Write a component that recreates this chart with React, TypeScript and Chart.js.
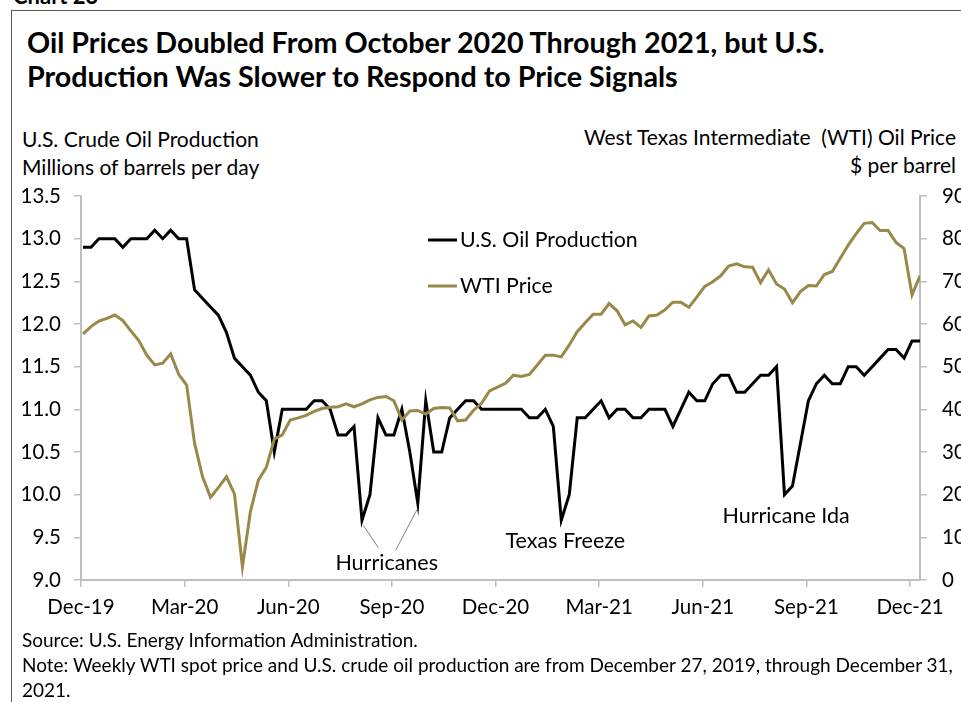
import React, { useEffect, useRef } from "react";
import { Chart, registerables } from "chart.js";
Chart.register(...registerables);

const FONT = "Lato, 'Noto Sans', sans-serif";

// Weekly observations, Dec 27 2019 through Dec 31 2021 (index = week number)
const productionMbd = [
  12.9, 12.9, 13.0, 13.0, 13.0, 12.9, 13.0, 13.0, 13.0, 13.1,
  13.0, 13.1, 13.0, 13.0, 12.4, 12.3, 12.2, 12.1, 11.9, 11.6,
  11.5, 11.4, 11.2, 11.1, 10.5, 11.0, 11.0, 11.0, 11.0, 11.1,
  11.1, 11.0, 10.7, 10.7, 10.8, 9.7, 10.0, 10.9, 10.7, 10.7,
  11.0, 10.5, 9.9, 11.1, 10.5, 10.5, 10.9, 11.0, 11.1, 11.1,
  11.0, 11.0, 11.0, 11.0, 11.0, 11.0, 10.9, 10.9, 11.0, 10.8,
  9.7, 10.0, 10.9, 10.9, 11.0, 11.1, 10.9, 11.0, 11.0, 10.9,
  10.9, 11.0, 11.0, 11.0, 10.8, 11.0, 11.2, 11.1, 11.1, 11.3,
  11.4, 11.4, 11.2, 11.2, 11.3, 11.4, 11.4, 11.5, 10.0, 10.1,
  10.6, 11.1, 11.3, 11.4, 11.3, 11.3, 11.5, 11.5, 11.4, 11.5,
  11.6, 11.7, 11.7, 11.6, 11.8, 11.8,
];

const wtiPrice = [
  57.7, 59.4, 60.7, 61.3, 62.1, 60.8, 58.4, 56.1, 52.7, 50.4,
  50.8, 53.0, 48.2, 45.7, 32.0, 24.2, 19.4, 21.7, 24.2, 20.2,
  3.1, 16.0, 23.4, 26.4, 33.0, 34.0, 37.5, 38.0, 38.6, 39.5,
  40.2, 40.5, 40.6, 41.3, 40.6, 41.3, 42.2, 42.8, 43.0, 42.0,
  37.5, 39.6, 39.7, 38.9, 40.2, 40.4, 40.3, 37.3, 37.5, 39.8,
  41.4, 44.3, 45.2, 46.1, 48.0, 47.7, 48.2, 50.4, 52.7, 52.7,
  52.3, 55.1, 58.2, 60.3, 62.3, 62.3, 64.8, 63.1, 59.8, 60.7,
  59.2, 61.9, 62.1, 63.3, 65.1, 65.1, 63.9, 66.3, 68.8, 69.9,
  71.3, 73.6, 74.1, 73.4, 73.3, 69.7, 72.7, 69.4, 68.2, 65.0,
  67.6, 69.0, 68.9, 71.6, 72.3, 75.4, 78.5, 81.2, 83.6, 83.8,
  81.9, 81.9, 79.1, 77.7, 66.8, 71.3,
];

const xTickLabels = ["Dec-19", "Mar-20", "Jun-20", "Sep-20", "Dec-20", "Mar-21", "Jun-21", "Sep-21", "Dec-21"];
const xTickWeeks = [0, 13, 26, 39, 52, 65, 78, 91, 104];

const seriesNames = ["U.S. Oil Production", "WTI Price"];
const seriesColors = ["#000000", "#9a8849"];

// annotation labels: text, week index, production-axis value
const noteTexts = ["Hurricanes", "Texas Freeze", "Hurricane Ida"];
const noteWeeks = [38.1, 60.5, 88.2];
const noteValues = [9.2, 9.46, 9.75];
// leader lines: [week0, value0, week1, value1]
const leaderLines = [
  [35.17, 9.64, 37.05, 9.38],
  [41.87, 9.82, 39.24, 9.35],
];

const notesPlugin = {
  id: "notesPlugin",
  afterDatasetsDraw(chart: any) {
    const { ctx, chartArea } = chart;
    const x = chart.scales.x;
    const y = chart.scales.y;
    ctx.save();
    ctx.strokeStyle = "#808080";
    ctx.lineWidth = 1;
    leaderLines.forEach(([i0, v0, i1, v1]) => {
      ctx.beginPath();
      ctx.moveTo(x.getPixelForValue(i0), y.getPixelForValue(v0));
      ctx.lineTo(x.getPixelForValue(i1), y.getPixelForValue(v1));
      ctx.stroke();
    });
    ctx.fillStyle = "#000";
    ctx.font = `21.5px ${FONT}`;
    ctx.textAlign = "center";
    ctx.textBaseline = "middle";
    noteTexts.forEach((t, k) => {
      ctx.fillText(t, x.getPixelForValue(noteWeeks[k]), y.getPixelForValue(noteValues[k]));
    });
    // legend
    const lx0 = chartArea.left + 347;
    const lx1 = chartArea.left + 376;
    const rows = [chartArea.top + 44, chartArea.top + 90];
    ctx.textAlign = "left";
    ctx.font = `21.3px ${FONT}`;
    seriesNames.forEach((name, k) => {
      ctx.strokeStyle = seriesColors[k];
      ctx.lineWidth = 3;
      ctx.beginPath();
      ctx.moveTo(lx0, rows[k]);
      ctx.lineTo(lx1, rows[k]);
      ctx.stroke();
      ctx.fillStyle = "#000";
      ctx.fillText(name, lx1 + 3, rows[k]);
    });
    ctx.restore();
  },
};

function OilChart() {
  const ref = useRef<HTMLCanvasElement | null>(null);
  useEffect(() => {
    if (!ref.current) return;
    const axisColor = "#bfbfbf";
    const tickFont = { family: FONT, size: 20.5 };
    const fixVertical = (w: number) => (s: any) => {
      s.width = w;
      s.paddingTop = 0;
      s.paddingBottom = 0;
    };
    const chart = new Chart(ref.current, {
      type: "line",
      data: {
        datasets: [
          {
            label: seriesNames[0],
            data: productionMbd.map((v, i) => ({ x: i, y: v })),
            borderColor: seriesColors[0],
            borderWidth: 3,
            pointRadius: 0,
            tension: 0,
            yAxisID: "y",
            order: 1,
          },
          {
            label: seriesNames[1],
            data: wtiPrice.map((v, i) => ({ x: i, y: v })),
            borderColor: seriesColors[1],
            borderWidth: 3,
            pointRadius: 0,
            tension: 0,
            yAxisID: "y2",
            order: 0,
          },
        ],
      },
      options: {
        animation: false,
        responsive: false,
        maintainAspectRatio: false,
        layout: { padding: { top: 16, left: 0, right: 0, bottom: 0 } },
        plugins: { legend: { display: false }, tooltip: { enabled: false } },
        scales: {
          x: {
            type: "linear",
            min: -0.25,
            max: 105,
            afterBuildTicks: (s: any) => {
              s.ticks = xTickWeeks.map((w) => ({ value: w - 0.25 }));
            },
            afterFit: (s: any) => {
              s.height = 50;
            },
            grid: { drawOnChartArea: false, drawTicks: true, tickLength: 7, color: axisColor, lineWidth: 1.5 },
            border: { color: axisColor, width: 2 },
            ticks: {
              autoSkip: false,
              maxRotation: 0,
              padding: 8,
              color: "#000",
              font: tickFont,
              callback: (_v: any, i: number) => xTickLabels[i],
            },
          },
          y: {
            position: "left",
            min: 9,
            max: 13.5,
            afterFit: fixVertical(81),
            grid: { drawOnChartArea: false, drawTicks: true, tickLength: 7, color: axisColor, lineWidth: 1.5 },
            border: { color: axisColor, width: 2 },
            ticks: {
              stepSize: 0.5,
              padding: 13,
              color: "#000",
              font: tickFont,
              callback: (v: any) => Number(v).toFixed(1),
            },
          },
          y2: {
            position: "right",
            min: 0,
            max: 90,
            afterFit: fixVertical(41),
            grid: { drawOnChartArea: false, drawTicks: true, tickLength: 7, color: axisColor, lineWidth: 1.5 },
            border: { color: axisColor, width: 2 },
            ticks: {
              stepSize: 10,
              padding: 15,
              color: "#000",
              font: tickFont,
              callback: (v: any) => String(v),
            },
          },
        },
      },
      plugins: [notesPlugin],
    } as any);
    return () => chart.destroy();
  }, []);
  return (
    <canvas
      ref={ref}
      width={961}
      height={450}
      style={{ position: "absolute", left: 0, top: 180, width: 961, height: 450 }}
    />
  );
}

export default function App() {
  return (
    <div
      style={{
        position: "absolute",
        left: 0,
        top: 0,
        width: 961,
        height: 702,
        overflow: "hidden",
        background: "#fff",
        fontFamily: FONT,
        color: "#000",
      }}
    >
      <div style={{ position: "absolute", left: 13, top: -15, fontWeight: 700, fontSize: 22, lineHeight: "22px" }}>
        Chart 23
      </div>
      <div
        style={{
          position: "absolute",
          left: 11,
          top: 10,
          width: 980,
          height: 720,
          borderLeft: "1.5px solid #555",
          borderTop: "1.5px solid #555",
        }}
      />
      <div style={{ position: "absolute", left: 27, top: 25, fontWeight: 700, fontSize: 28.7, lineHeight: "34px", whiteSpace: "nowrap" }}>
        <div>Oil Prices Doubled From October 2020 Through 2021, but U.S.</div>
        <div>Production Was Slower to Respond to Price Signals</div>
      </div>
      <div style={{ position: "absolute", left: 22, top: 125, fontSize: 21, lineHeight: "28px", whiteSpace: "nowrap" }}>
        <div>U.S. Crude Oil Production</div>
        <div>Millions of barrels per day</div>
      </div>
      <div
        style={{
          position: "absolute",
          right: 5,
          top: 123,
          fontSize: 21,
          lineHeight: "28px",
          textAlign: "right",
          whiteSpace: "pre",
        }}
      >
        <div>West Texas Intermediate  (WTI) Oil Price</div>
        <div>$ per barrel</div>
      </div>
      <OilChart />
      <div style={{ position: "absolute", left: 22, top: 627, fontSize: 19, lineHeight: "25px", whiteSpace: "nowrap" }}>
        <div>Source: U.S. Energy Information Administration.</div>
        <div>Note: Weekly WTI spot price and U.S. crude oil production are from December 27, 2019, through December 31,</div>
        <div>2021.</div>
      </div>
    </div>
  );
}
